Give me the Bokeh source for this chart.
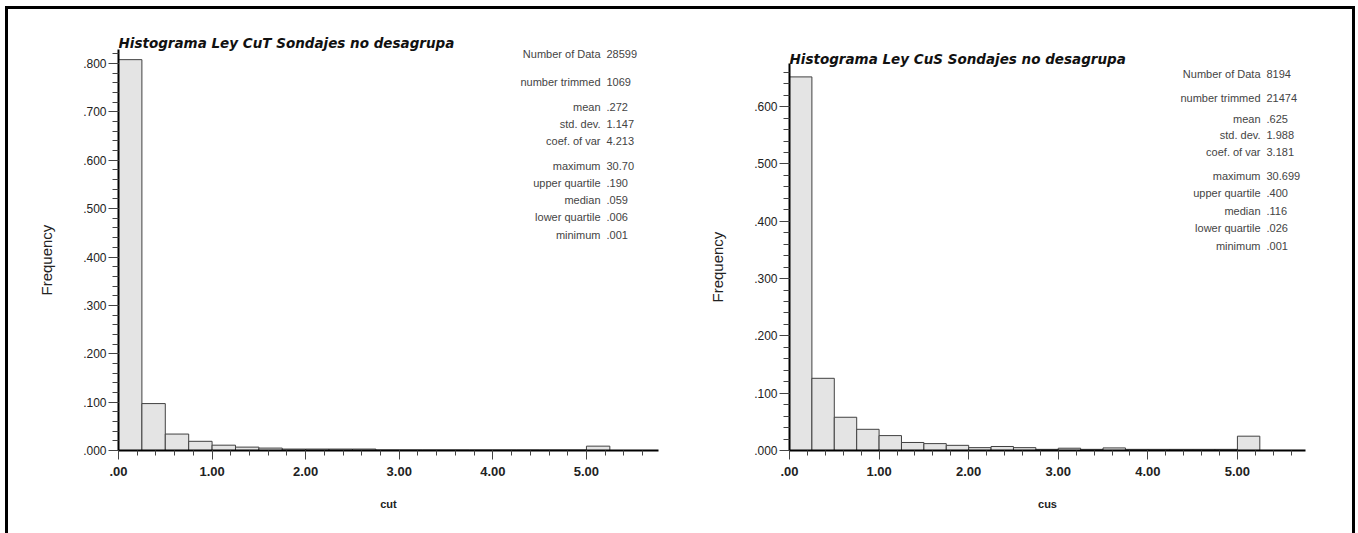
from bokeh.plotting import figure
from bokeh.layouts import row
from bokeh.models import Range1d, Label, Title, FixedTicker, CustomJSTickFormatter
from bokeh.embed import file_html
from bokeh.resources import INLINE

# Histogram bins: 0.25 wide, lower edges from 0.00 to 5.00
bin_width = 0.25
bin_starts = [i * 0.25 for i in range(21)]

cut_freq = [0.808, 0.097, 0.034, 0.019, 0.011, 0.007, 0.005, 0.003,
            0.003, 0.003, 0.003, 0.001, 0.001, 0.001, 0.001, 0.001,
            0.001, 0.001, 0.001, 0.001, 0.009]
cus_freq = [0.652, 0.126, 0.058, 0.037, 0.026, 0.014, 0.012, 0.009,
            0.005, 0.007, 0.005, 0.002, 0.004, 0.002, 0.0045, 0.002,
            0.002, 0.002, 0.002, 0.002, 0.025]

stat_names = ["Number of Data", "number trimmed", "mean", "std. dev.",
              "coef. of var", "maximum", "upper quartile", "median",
              "lower quartile", "minimum"]
cut_stats = ["28599", "1069", ".272", "1.147", "4.213", "30.70",
             ".190", ".059", ".006", ".001"]
cus_stats = ["8194", "21474", ".625", "1.988", "3.181", "30.699",
             ".400", ".116", ".026", ".001"]

cut_title = "Histograma Ley CuT Sondajes no desagrupa"
cus_title = "Histograma Ley CuS Sondajes no desagrupa"

FONT = "Liberation Sans"
TITLE_FONT = "DejaVu Sans"

W, H = 672, 524          # canvas size of each panel
TOP, BOTTOM = 16, 83     # shared frame borders (row aligns the frames)
FRAME_H = H - TOP - BOTTOM

x_fmt = CustomJSTickFormatter(code="return tick.toFixed(2).replace(/^0\\./, '.');")
y_fmt = CustomJSTickFormatter(code="return tick.toFixed(3).replace(/^0\\./, '.');")


def histogram(freq, stats, title, xlabel, y_top, y_axis_end, y_major, x_end,
              left_border, right_border, title_row, stat_rows, stat_x,
              ylabel_lift):
    p = figure(width=W, height=H, output_backend="svg",
               toolbar_location=None, x_range=Range1d(0, x_end),
               y_range=Range1d(0, y_top), min_border_left=left_border,
               min_border_right=right_border, min_border_top=TOP,
               min_border_bottom=BOTTOM)
    p.outline_line_color = None
    p.grid.visible = False
    p.background_fill_color = "white"
    p.border_fill_color = "white"

    p.quad(left=bin_starts, right=[b + bin_width for b in bin_starts],
           bottom=0, top=freq, fill_color="#e4e4e4",
           line_color="#404040", line_width=1)

    frame_w = W - left_border - right_border

    def to_y(row_px):
        return y_top * (FRAME_H - (row_px - TOP)) / FRAME_H

    # chart heading, left-aligned on the value axis
    p.add_layout(Label(x=0, y=to_y(title_row), text=title,
                       text_align="left", text_baseline="middle",
                       text_font=TITLE_FONT, text_font_style="bold italic",
                       text_font_size="13.5px", text_color="#111111"))

    xa = p.xaxis[0]
    xa.ticker = FixedTicker(ticks=[0, 1, 2, 3, 4, 5],
                            minor_ticks=[i * 0.2 for i in range(29)])
    xa.formatter = x_fmt
    xa.axis_line_width = 2
    xa.axis_line_color = "black"
    xa.major_tick_line_color = "#444444"
    xa.minor_tick_line_color = "#444444"
    xa.major_tick_out = 9
    xa.major_tick_in = 0
    xa.minor_tick_out = 5
    xa.minor_tick_in = 0
    xa.major_label_text_font = FONT
    xa.major_label_text_font_style = "bold"
    xa.major_label_text_font_size = "13px"
    xa.major_label_text_color = "#222222"
    xa.major_label_standoff = 7
    xa.axis_label = xlabel
    xa.axis_label_text_font = FONT
    xa.axis_label_text_font_style = "bold"
    xa.axis_label_text_font_size = "11px"
    xa.axis_label_text_color = "#222222"
    xa.axis_label_standoff = 19

    ya = p.yaxis[0]
    ya.bounds = (0, y_axis_end)
    ya.ticker = FixedTicker(ticks=y_major,
                            minor_ticks=[i * 0.02 for i in range(int(y_axis_end / 0.02) + 1)])
    ya.formatter = y_fmt
    ya.axis_line_width = 2
    ya.axis_line_color = "black"
    ya.major_tick_line_color = "#444444"
    ya.minor_tick_line_color = "#444444"
    ya.major_tick_out = 10
    ya.major_tick_in = 0
    ya.minor_tick_out = 6
    ya.minor_tick_in = 0
    ya.major_label_text_font = FONT
    ya.major_label_text_font_size = "12px"
    ya.major_label_text_color = "#222222"
    ya.major_label_standoff = 2

    # vertical "Frequency" caption, lifted from the bottom of the frame
    p.add_layout(Title(text="Frequency", align="left", offset=ylabel_lift,
                       vertical_align="bottom", text_font=FONT,
                       text_font_style="normal", text_font_size="15px",
                       text_color="#222222", standoff=52), "left")

    # summary statistics block
    xd = x_end * (stat_x - left_border) / frame_w
    for name, val, sy in zip(stat_names, stats, stat_rows):
        yd = to_y(sy)
        p.add_layout(Label(x=xd, y=yd, x_offset=-3, text=name,
                           text_align="right", text_baseline="middle",
                           text_font=FONT, text_font_size="11px",
                           text_color="#444444"))
        p.add_layout(Label(x=xd, y=yd, x_offset=3, text=val,
                           text_align="left", text_baseline="middle",
                           text_font=FONT, text_font_size="11px",
                           text_color="#444444"))
    return p


# rows below are canvas pixel rows (canvas starts 9px below the page top)
left = histogram(cut_freq, cut_stats, cut_title, "cut", 0.8786, 0.83,
                 [0, .1, .2, .3, .4, .5, .6, .7, .8], 5.77, 110, 22,
                 33, [44, 72, 97, 114, 131, 156, 173, 190, 207, 225], 595, 155)
right = histogram(cus_freq, cus_stats, cus_title, "cus", 0.7417, 0.675,
                  [0, .1, .2, .3, .4, .5, .6], 5.76, 109, 47,
                  49, [64, 88, 109, 125, 142, 166, 183, 201, 218, 236], 583, 148)

layout = row(left, right)
layout.styles = {"border-top": "3px solid black", "border-left": "3px solid black",
                 "border-right": "3px solid black", "margin-left": "5px",
                 "margin-top": "6px", "background-color": "white"}

with open("out.html", "w") as f:
    f.write(file_html(layout, INLINE))
